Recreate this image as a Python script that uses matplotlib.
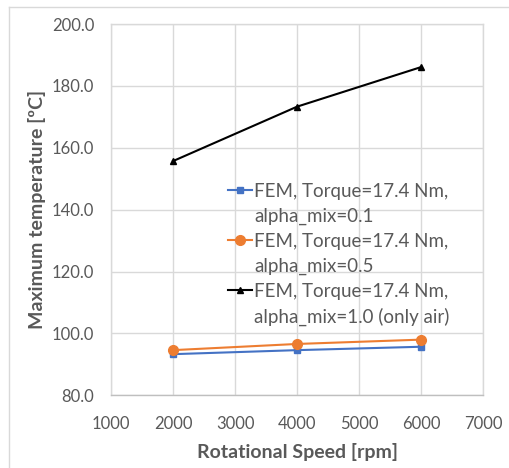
import matplotlib
matplotlib.use("Agg")
import matplotlib.pyplot as plt
from matplotlib.lines import Line2D

speed = [2000, 4000, 6000]
t_alpha01 = [93.3, 94.6, 95.7]
t_alpha05 = [94.6, 96.6, 98.0]
t_alpha10 = [155.7, 173.3, 186.1]
labels_line1 = ["FEM, Torque=17.4 Nm,"] * 3
labels_line2 = ["alpha_mix=0.1", "alpha_mix=0.5", "alpha_mix=1.0 (only air)"]

plt.rcParams['font.family'] = ['Lato', 'DejaVu Sans']
txt = '#595959'
grid = '#d9d9d9'

fig = plt.figure(figsize=(5.1, 4.68), dpi=100)
ax = fig.add_axes([0.2176, 0.1553, 0.9477 - 0.2176, 0.9487 - 0.1553])

l1, = ax.plot(speed, t_alpha01, color='#4472C4', marker='s', markersize=5, lw=1.5)
l2, = ax.plot(speed, t_alpha05, color='#ED7D31', marker='o', markersize=7, lw=1.5)
l3, = ax.plot(speed, t_alpha10, color='black', marker='^', markersize=5, lw=1.5)

ax.set_xlim(1000, 7000)
ax.set_ylim(80, 200)
ax.set_xticks(range(1000, 7001, 1000))
ax.set_yticks(range(80, 201, 20))
ax.set_yticklabels([f"{v:.1f}" for v in range(80, 201, 20)])
ax.grid(True, color=grid, lw=1)
ax.set_axisbelow(True)
for s in ax.spines.values():
    s.set_color(grid)
    s.set_linewidth(1)
ax.spines['bottom'].set_color('#bfbfbf')
ax.tick_params(length=0, labelsize=12, labelcolor=txt)
ax.tick_params(axis='y', pad=12)
ax.tick_params(axis='x', pad=15)
ax.set_xlabel("Rotational Speed [rpm]", fontsize=14, fontweight='bold', color=txt, labelpad=8)
ax.set_ylabel("Maximum temperature [ºC]", fontsize=14, fontweight='bold', color=txt, labelpad=4)

blank = Line2D([], [], color='none')
handles = [l1, blank, l2, blank, l3, blank]
labs = []
for a, b in zip(labels_line1, labels_line2):
    labs += [a, b]
leg = ax.legend(handles, labs, loc='upper left', bbox_to_anchor=(0.314, 0.572),
                frameon=False, fontsize=13.5, labelcolor=txt, handlelength=1.3,
                handletextpad=0.1, labelspacing=0.42, borderpad=0, borderaxespad=0)

fig.add_artist(Line2D([9/510, 9/510], [0, 1 - 7/468], transform=fig.transFigure, color=grid, lw=1))
fig.add_artist(Line2D([9/510, 1], [1 - 7/468, 1 - 7/468], transform=fig.transFigure, color=grid, lw=1))

fig.savefig("out.png", dpi=100)
